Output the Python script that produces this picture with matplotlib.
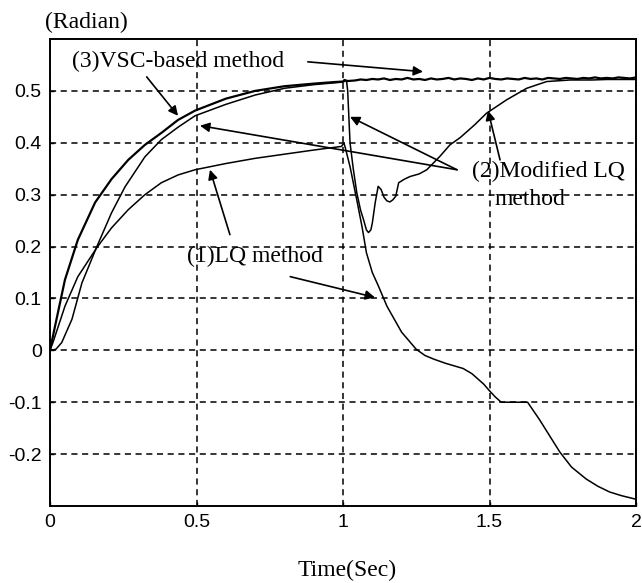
import matplotlib.pyplot as plt

# (3) VSC-based method
t_vsc = [0, 0.017, 0.051, 0.095, 0.154, 0.21, 0.267, 0.324, 0.38, 0.437, 0.495,
         0.6, 0.7, 0.8, 0.9, 0.97, 1.0, 1.005, 1.015, 1.04, 1.06, 1.08, 1.10, 1.12,
         1.14, 1.16, 1.18, 1.20, 1.22, 1.24, 1.26, 1.28, 1.30, 1.32, 1.34, 1.36,
         1.38, 1.40, 1.42, 1.44, 1.46, 1.48, 1.50, 1.52, 1.54, 1.56, 1.58, 1.60,
         1.62, 1.64, 1.66, 1.68, 1.70, 1.72, 1.74, 1.76, 1.78, 1.80, 1.82, 1.84,
         1.86, 1.88, 1.90, 1.92, 1.94, 1.96, 1.98, 2.0]
y_vsc = [0, 0.046, 0.136, 0.213, 0.285, 0.33, 0.367, 0.396, 0.419, 0.444, 0.462,
         0.485, 0.500, 0.509, 0.514, 0.517, 0.518, 0.521, 0.519, 0.520, 0.522, 0.521,
         0.523, 0.522, 0.524, 0.521, 0.523, 0.522, 0.525, 0.522, 0.523, 0.521, 0.524,
         0.522, 0.523, 0.525, 0.522, 0.524, 0.523, 0.521, 0.524, 0.522, 0.525, 0.523,
         0.522, 0.524, 0.523, 0.522, 0.525, 0.523, 0.524, 0.522, 0.525, 0.524, 0.523,
         0.525, 0.524, 0.523, 0.525, 0.524, 0.526, 0.524, 0.525, 0.524, 0.526, 0.525,
         0.524, 0.526]

# (2) Modified LQ method
t_mlq = [0, 0.02, 0.04, 0.075, 0.109, 0.16, 0.21, 0.256, 0.324, 0.38, 0.437, 0.495,
         0.6, 0.7, 0.8, 0.9, 1.0, 1.012, 1.016, 1.024, 1.035, 1.047, 1.06, 1.07,
         1.08, 1.087, 1.095, 1.10, 1.11, 1.12, 1.13, 1.14, 1.15, 1.16, 1.17, 1.18,
         1.19, 1.21, 1.229, 1.26, 1.286, 1.331, 1.365, 1.4, 1.45, 1.49, 1.559,
         1.627, 1.695, 1.775, 1.85, 1.9, 2.0]
y_mlq = [0, 0.002, 0.015, 0.06, 0.13, 0.2, 0.265, 0.315, 0.373, 0.406, 0.43, 0.452,
         0.474, 0.492, 0.505, 0.512, 0.517, 0.52, 0.5, 0.40, 0.35, 0.304, 0.27, 0.252,
         0.232, 0.227, 0.232, 0.245, 0.285, 0.316, 0.31, 0.295, 0.288, 0.286, 0.29,
         0.297, 0.323, 0.33, 0.335, 0.34, 0.348, 0.374, 0.396, 0.41, 0.435, 0.457,
         0.483, 0.505, 0.518, 0.521, 0.521, 0.522, 0.522]

# (1) LQ method
t_lq = [0, 0.01, 0.051, 0.095, 0.16, 0.21, 0.267, 0.324, 0.38, 0.437, 0.495, 0.6,
        0.7, 0.8, 0.9, 0.995, 1.003, 1.008, 1.024, 1.047, 1.065, 1.08, 1.10, 1.12,
        1.135, 1.15, 1.2, 1.25, 1.28, 1.31, 1.35, 1.41, 1.44, 1.48, 1.50, 1.52,
        1.54, 1.63, 1.67, 1.70, 1.74, 1.78, 1.83, 1.87, 1.91, 1.95, 2.0]
y_lq = [0, 0.015, 0.085, 0.142, 0.198, 0.236, 0.271, 0.3, 0.323, 0.338, 0.348, 0.36,
        0.37, 0.378, 0.386, 0.393, 0.40, 0.39, 0.354, 0.29, 0.238, 0.188, 0.15, 0.125,
        0.105, 0.085, 0.035, 0.002, -0.01, -0.017, -0.025, -0.035, -0.045, -0.065,
        -0.078, -0.09, -0.1, -0.1, -0.133, -0.16, -0.196, -0.225, -0.248, -0.262,
        -0.273, -0.28, -0.287]

x_ticks = [0, 0.5, 1, 1.5, 2]
x_tick_labels = ['0', '0.5', '1', '1.5', '2']
y_ticks = [-0.2, -0.1, 0, 0.1, 0.2, 0.3, 0.4, 0.5]
y_tick_labels = ['-0.2', '-0.1', '0', '0.1', '0.2', '0.3', '0.4', '0.5']

# annotation labels: (text, x, y, ha) and arrows: (tail, head)
labels = [
    ('(3)VSC-based method', 0.075, 0.556, 'left'),
    ('(2)Modified LQ', 1.70, 0.344, 'center'),
    ('method', 1.638, 0.29, 'center'),
    ('(1)LQ method', 0.70, 0.181, 'center'),
]
arrows = [
    ((0.88, 0.556), (1.273, 0.537)),
    ((0.33, 0.527), (0.437, 0.452)),
    ((1.389, 0.348), (0.512, 0.433)),
    ((1.389, 0.348), (1.024, 0.45)),
    ((1.536, 0.367), (1.495, 0.462)),
    ((0.614, 0.223), (0.546, 0.348)),
    ((0.82, 0.142), (1.109, 0.102)),
]

serif = 'Liberation Serif'

fig = plt.figure(figsize=(6.42, 5.83), dpi=100)
ax = fig.add_axes([50 / 642, 1 - 506 / 583, 586 / 642, 467 / 583])

ax.plot(t_vsc, y_vsc, color='black', lw=1.6)
ax.plot(t_mlq, y_mlq, color='black', lw=1.1)
ax.plot(t_lq, y_lq, color='black', lw=1.1)

ax.set_xlim(0, 2)
ax.set_ylim(-0.3, 0.6)
ax.set_xticks(x_ticks)
ax.set_xticklabels(x_tick_labels, fontfamily='Liberation Sans', fontsize=14)
ax.set_yticks(y_ticks)
ax.set_yticklabels(y_tick_labels, fontfamily='Liberation Sans', fontsize=14)
ax.tick_params(direction='in', length=3, width=1, pad=6)
ax.grid(True, color='black', linestyle=(0, (4, 3)), lw=1.1)
for s in ax.spines.values():
    s.set_linewidth(1.4)

for txt, x, y, ha in labels:
    ax.text(x, y, txt, fontfamily=serif, fontsize=17, ha=ha, va='center', zorder=5)

for tail, head in arrows:
    ax.annotate('', xy=head, xytext=tail,
                arrowprops=dict(arrowstyle='-|>', color='black', lw=1.2,
                                mutation_scale=14, shrinkA=0, shrinkB=0))

fig.text(347 / 642, 1 - 570 / 583, 'Time(Sec)', fontfamily=serif, fontsize=17,
         ha='center', va='center')
fig.text(45 / 642, 1 - 22 / 583, '(Radian)', fontfamily=serif, fontsize=17,
         ha='left', va='center')

plt.savefig('out.png', dpi=100)
